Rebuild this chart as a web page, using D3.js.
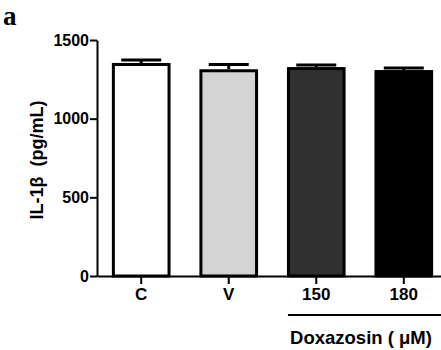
<!DOCTYPE html>
<html>
<head>
<meta charset="utf-8">
<script src="https://cdn.jsdelivr.net/npm/d3@7"></script>
<style>
  body { margin: 0; background: #fff; }
  svg { display: block; }
  .axis text { font-family: "Liberation Sans", Arial, sans-serif; font-weight: bold; fill: #000; }
  .axis--y text { font-size: 16px; }
  .axis--x text { font-size: 17px; }
  .axis path, .axis line { stroke: #000; stroke-width: 2px; }
</style>
</head>
<body>
<div class="il1b-chart"><svg width="441" height="350"></svg></div>
<script>
// values
const groups = ['C', 'V', '150', '180'];
const means = [1354, 1314, 1328, 1309];
const errors = [19, 31, 13, 13];
const fills = ['#ffffff', '#d4d4d4', '#303030', '#000000'];
const yTicks = [0, 500, 1000, 1500];

const svg = d3.select('.il1b-chart').select('svg');
const plotLeft = 97, plotTop = 40, plotBottom = 276;

const x = d3.scaleBand()
  .domain(groups)
  .range([plotLeft, 448])
  .paddingInner(0.33)
  .paddingOuter(0.17);

const y = d3.scaleLinear().domain([0, 1500]).range([plotBottom, plotTop]);

// panel letter
svg.append('text')
  .attr('x', 3)
  .attr('y', 24.5)
  .style('font', 'bold 27px "Liberation Serif", "Times New Roman", serif')
  .text('a');

// error bars (drawn first, bars cover lower half)
const err = svg.append('g').selectAll('g')
  .data(groups)
  .enter().append('g');

err.append('line')
  .attr('x1', d => x(d) + x.bandwidth() / 2)
  .attr('x2', d => x(d) + x.bandwidth() / 2)
  .attr('y1', (d, i) => y(means[i]))
  .attr('y2', (d, i) => y(means[i] + errors[i]))
  .attr('stroke', '#000')
  .attr('stroke-width', 3);

err.append('line')
  .attr('x1', d => x(d) + x.bandwidth() / 2 - 20)
  .attr('x2', d => x(d) + x.bandwidth() / 2 + 20)
  .attr('y1', (d, i) => y(means[i] + errors[i]))
  .attr('y2', (d, i) => y(means[i] + errors[i]))
  .attr('stroke', '#000')
  .attr('stroke-width', 3);

// bars
svg.append('g').selectAll('rect')
  .data(groups)
  .enter().append('rect')
  .attr('x', d => x(d) + 1.5)
  .attr('width', x.bandwidth() - 3)
  .attr('y', (d, i) => y(means[i]) + 1.5)
  .attr('height', (d, i) => plotBottom - y(means[i]) - 1.5)
  .attr('fill', (d, i) => fills[i])
  .attr('stroke', '#000')
  .attr('stroke-width', 3);

// axes
svg.append('g')
  .attr('class', 'axis axis--y')
  .attr('transform', 'translate(' + plotLeft + ',0)')
  .call(d3.axisLeft(y).tickValues(yTicks).tickFormat(d3.format('d'))
    .tickSize(7).tickSizeOuter(0).tickPadding(1));

svg.append('g')
  .attr('class', 'axis axis--x')
  .attr('transform', 'translate(0,' + plotBottom + ')')
  .call(d3.axisBottom(x).tickSize(8).tickSizeOuter(0).tickPadding(4));

// treatment bracket
svg.append('line')
  .attr('x1', x('150') + 1)
  .attr('x2', 441)
  .attr('y1', 315)
  .attr('y2', 315)
  .attr('stroke', '#000')
  .attr('stroke-width', 2);

svg.append('text')
  .attr('x', 361)
  .attr('y', 344)
  .attr('text-anchor', 'middle')
  .style('font', 'bold 18.5px "Liberation Sans", Arial, sans-serif')
  .style('white-space', 'pre')
  .text('Doxazosin ( \u03bcM)');

// y label
svg.append('text')
  .attr('transform', 'translate(43,160) rotate(-90)')
  .attr('text-anchor', 'middle')
  .style('font', 'bold 18px "Liberation Sans", Arial, sans-serif')
  .style('white-space', 'pre')
  .text('IL-1\u03b2  (pg/mL)');
</script>
</body>
</html>
